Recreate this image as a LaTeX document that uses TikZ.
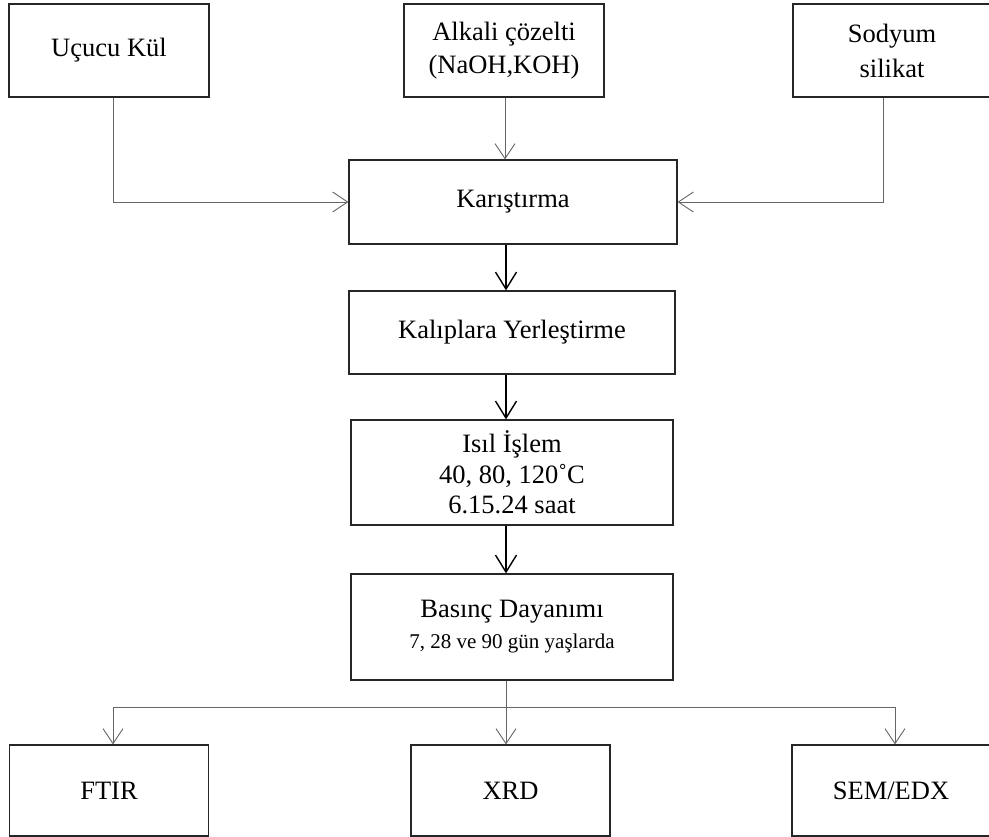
\documentclass[tikz,border=0pt]{standalone}
\usepackage{fontspec}
\setmainfont{Liberation Serif}
\usetikzlibrary{arrows.meta}
\tikzset{
  box/.style={draw=black!85, line width=1.2pt, inner sep=0pt, align=center,
    font=\fontsize{26.5}{33}\selectfont},
  thinarrow/.style={draw=black!60, line width=0.9pt,
    -{Straight Barb[length=15pt,width=20pt,line width=0.9pt]}},
  thinline/.style={draw=black!60, line width=0.9pt},
  thickarrow/.style={draw=black, line width=1.6pt,
    -{Straight Barb[length=17pt,width=21pt,line width=1.4pt]}}
}
\begin{document}
\begin{tikzpicture}[x=1pt,y=-1pt]
\useasboundingbox (0,0) rectangle (989,837);
\clip (0,0) rectangle (989,837);

\node[box, minimum width=200pt, minimum height=93pt] (u) at (109,50.5) {Uçucu Kül};
\node[box, minimum width=200pt, minimum height=93pt] (a) at (504,50.5) {Alkali çözelti\\(NaOH,KOH)};
\node[box, minimum width=198pt, minimum height=93pt, font=\fontsize{26.5}{35}\selectfont] (s) at (892,50.5) {Sodyum\\silikat};

\node[box, minimum width=328pt, minimum height=84pt] (k) at (513,202) {Karıştırma};
\node[box, minimum width=326pt, minimum height=83pt] (kal) at (512,332.5) {Kalıplara Yerleştirme};
\node[box, minimum width=322pt, minimum height=105pt, font=\fontsize{26.5}{30.5}\selectfont] (isil) at (512,472.5) {Isıl İşlem\\40, 80, 120˚C\\6.15.24 saat};
\node[box, minimum width=322pt, minimum height=106pt, font=\fontsize{26.5}{31}\selectfont] (bas) at (512,627) {Basınç Dayanımı\\{\fontsize{21}{25}\selectfont 7, 28 ve 90 gün yaşlarda}};

\node[box, minimum width=199pt, minimum height=91pt] (ftir) at (109,790.5) {FTIR};
\node[box, minimum width=199pt, minimum height=91pt] (xrd) at (510.5,790.5) {XRD};
\node[box, minimum width=198pt, minimum height=91pt] (sem) at (891,790.5) {SEM/EDX};

% inputs
\draw[thinarrow] ([xshift=4pt]u.south) |- (k.west);
\draw[thinarrow] ([xshift=1pt]a.south) -- ([xshift=1pt]a.south |- k.north);
\draw[thinarrow] ([xshift=-9pt]s.south) |- (k.east);

% main chain
\draw[thickarrow] ([xshift=-7pt]k.south) -- ([xshift=-7pt]k.south |- kal.north);
\draw[thickarrow] ([xshift=-6pt]kal.south) -- ([xshift=-6pt]kal.south |- isil.north);
\draw[thickarrow] ([xshift=-6pt]isil.south) -- ([xshift=-6pt]isil.south |- bas.north);

% outputs
\coordinate (br) at ([xshift=-6pt]bas.south |- 0,707);
\draw[thinarrow] ([xshift=-6pt]bas.south) -- ([xshift=-6pt]bas.south |- xrd.north);
\draw[thinarrow] (br) -| ([xshift=4pt]ftir.north);
\draw[thinarrow] (br) -| ([xshift=4pt]sem.north);
\end{tikzpicture}
\end{document}
